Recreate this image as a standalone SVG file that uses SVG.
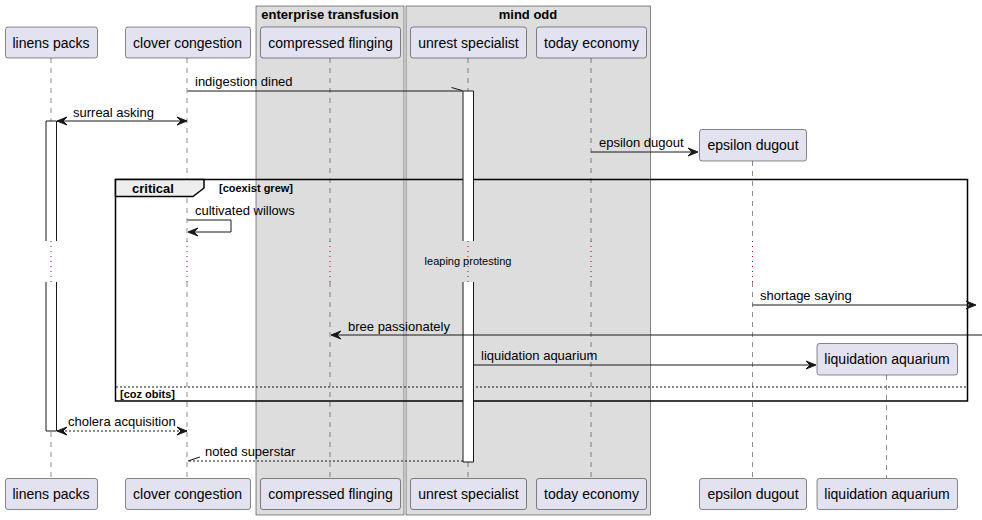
<svg xmlns="http://www.w3.org/2000/svg" width="982" height="520" viewBox="0 0 982 520">
<defs>
<style>
text{font-family:"Liberation Sans",Arial,sans-serif;fill:#000}
.pbox{fill:#E2E2F0;stroke:#181818;stroke-width:0.5}
.pname{font-size:14px;text-anchor:middle}
.life{stroke:#181818;stroke-width:0.5;stroke-dasharray:5,5;fill:none}
.delay{stroke:#A80036;stroke-width:1;stroke-dasharray:1,4;fill:none}
.actf{fill:#FFFFFF;stroke:none}
.acts{fill:none;stroke:#181818;stroke-width:1}
.msg{stroke:#181818;stroke-width:1;fill:none}
.dash{stroke-dasharray:2,2}
.head{fill:#181818;stroke:#181818;stroke-width:1}
.lbl{font-size:13px}
.bx{fill:#DDDDDD;stroke:#181818;stroke-width:0.5}
.bxt{font-size:13px;font-weight:bold;text-anchor:middle}
.frame{fill:none;stroke:#000;stroke-width:1.5}
.tab{fill:#EEEEEE;stroke:#000;stroke-width:1.5}
.gl{font-size:11px;font-weight:bold}
</style>
</defs>

<g id="box-enterprise-transfusion">
<rect class="bx" x="256" y="6" width="148" height="509"/>
<text class="bxt" x="330" y="19">enterprise transfusion</text>
</g>
<g id="box-mind-odd">
<rect class="bx" x="406" y="6" width="244.5" height="509"/>
<text class="bxt" x="528" y="19">mind odd</text>
</g>

<g id="lifelines">
<path class="life" d="M51,58V241M51,282V478"/>
<path class="delay" d="M51,241V282"/>
<path class="life" d="M187,58V241M187,282V478"/>
<path class="delay" d="M187,241V282"/>
<path class="life" d="M330,58V241M330,282V478"/>
<path class="delay" d="M330,241V282"/>
<path class="life" d="M468,58V241M468,282V478"/>
<path class="delay" d="M468,241V282"/>
<path class="life" d="M591,58V241M591,282V478"/>
<path class="delay" d="M591,241V282"/>
<path class="life" d="M752.5,161V241M752.5,282V478"/>
<path class="delay" d="M752.5,241V282"/>
<path class="life" d="M886.5,375V478"/>
</g>

<g id="group-critical">
<rect class="frame" x="115.5" y="179.5" width="852" height="221.5"/>
<path class="tab" d="M115.5,179.5H204V188L193,196.5H115.5Z"/>
<text x="132" y="193" style="font-size:13px;font-weight:bold">critical</text>
<text class="gl" x="219" y="192">[coexist grew]</text>
<line class="msg dash" x1="116" y1="387" x2="967" y2="387"/>
<text class="gl" x="120" y="398">[coz obits]</text>
</g>

<g id="linens-packs">
<rect class="pbox" x="5.5" y="27" width="92" height="31" rx="2.5"/>
<text class="pname" x="51" y="47.5">linens packs</text>
<rect class="pbox" x="5.5" y="478.5" width="92" height="31" rx="2.5"/>
<text class="pname" x="51" y="499">linens packs</text>
<rect class="actf" x="46" y="121" width="10.5" height="120"/>
<path class="acts" d="M46,241V121H56.5V241"/>
<rect class="actf" x="46" y="282" width="10.5" height="149"/>
<path class="acts" d="M46,282V431H56.5V282"/>
</g>
<g id="clover-congestion">
<rect class="pbox" x="125.5" y="27" width="125" height="31" rx="2.5"/>
<text class="pname" x="187.5" y="47.5">clover congestion</text>
<rect class="pbox" x="125.5" y="478.5" width="125" height="31" rx="2.5"/>
<text class="pname" x="187.5" y="499">clover congestion</text>
</g>
<g id="compressed-flinging">
<rect class="pbox" x="260.5" y="27" width="140" height="31" rx="2.5"/>
<text class="pname" x="330.5" y="47.5">compressed flinging</text>
<rect class="pbox" x="260.5" y="478.5" width="140" height="31" rx="2.5"/>
<text class="pname" x="330.5" y="499">compressed flinging</text>
</g>
<g id="unrest-specialist">
<rect class="pbox" x="410.5" y="27" width="116" height="31" rx="2.5"/>
<text class="pname" x="468.5" y="47.5">unrest specialist</text>
<rect class="pbox" x="410.5" y="478.5" width="116" height="31" rx="2.5"/>
<text class="pname" x="468.5" y="499">unrest specialist</text>
<rect class="actf" x="463" y="91" width="10.5" height="150"/>
<path class="acts" d="M463,241V91H473.5V241"/>
<rect class="actf" x="463" y="282" width="10.5" height="180"/>
<path class="acts" d="M463,282V462H473.5V282"/>
</g>
<g id="today-economy">
<rect class="pbox" x="536.5" y="27" width="110" height="31" rx="2.5"/>
<text class="pname" x="591.5" y="47.5">today economy</text>
<rect class="pbox" x="536.5" y="478.5" width="110" height="31" rx="2.5"/>
<text class="pname" x="591.5" y="499">today economy</text>
</g>
<g id="epsilon-dugout">
<rect class="pbox" x="699.5" y="129.5" width="107" height="31.5" rx="2.5"/>
<text class="pname" x="753" y="150">epsilon dugout</text>
<rect class="pbox" x="699.5" y="478.5" width="107" height="31" rx="2.5"/>
<text class="pname" x="753" y="499">epsilon dugout</text>
</g>
<g id="liquidation-aquarium">
<rect class="pbox" x="817" y="343.5" width="140.5" height="31.5" rx="2.5"/>
<text class="pname" x="887" y="364">liquidation aquarium</text>
<rect class="pbox" x="817" y="478.5" width="140.5" height="31" rx="2.5"/>
<text class="pname" x="887" y="499">liquidation aquarium</text>
</g>

<g id="delay">
<text x="468" y="265" style="font-size:11px;text-anchor:middle">leaping protesting</text>
</g>

<g id="connectors">
<line class="msg" x1="187.5" y1="91" x2="463" y2="91"/>
<line class="msg" x1="451.5" y1="87.5" x2="462" y2="90.5"/>
<text class="lbl" x="195" y="86">indigestion dined</text>

<line class="msg" x1="57" y1="121" x2="187" y2="121"/>
<polygon class="head" points="177,117 187,121 177,125 181,121"/>
<polygon class="head" points="67,117 57,121 67,125 63,121"/>
<text class="lbl" x="73" y="117">surreal asking</text>

<line class="msg" x1="591" y1="152" x2="697" y2="152"/>
<polygon class="head" points="688,148 698,152 688,156 692,152"/>
<text class="lbl" x="599" y="147">epsilon dugout</text>

<path class="msg" d="M187.5,220H231V232H189"/>
<polygon class="head" points="198,228 188,232 198,236 194,232"/>
<text class="lbl" x="195" y="215">cultivated willows</text>

<line class="msg" x1="752.5" y1="305" x2="975" y2="305"/>
<polygon class="head" points="966,301 976,305 966,309 970,305"/>
<text class="lbl" x="760" y="300">shortage saying</text>

<line class="msg" x1="982" y1="335" x2="332" y2="335"/>
<polygon class="head" points="341,331 331,335 341,339 337,335"/>
<text class="lbl" x="348" y="331">bree passionately</text>

<line class="msg" x1="473.5" y1="365" x2="815" y2="365"/>
<polygon class="head" points="806,361 816,365 806,369 810,365"/>
<text class="lbl" x="481" y="360">liquidation aquarium</text>

<line class="msg dash" x1="57" y1="431" x2="187" y2="431"/>
<polygon class="head" points="177,427 187,431 177,435 181,431"/>
<polygon class="head" points="67,427 57,431 67,435 63,431"/>
<text class="lbl" x="68" y="426">cholera acquisition</text>

<line class="msg dash" x1="463" y1="461" x2="188" y2="461"/>
<line class="msg" x1="188" y1="461" x2="200" y2="457"/>
<text class="lbl" x="205" y="456">noted superstar</text>
</g>
</svg>
